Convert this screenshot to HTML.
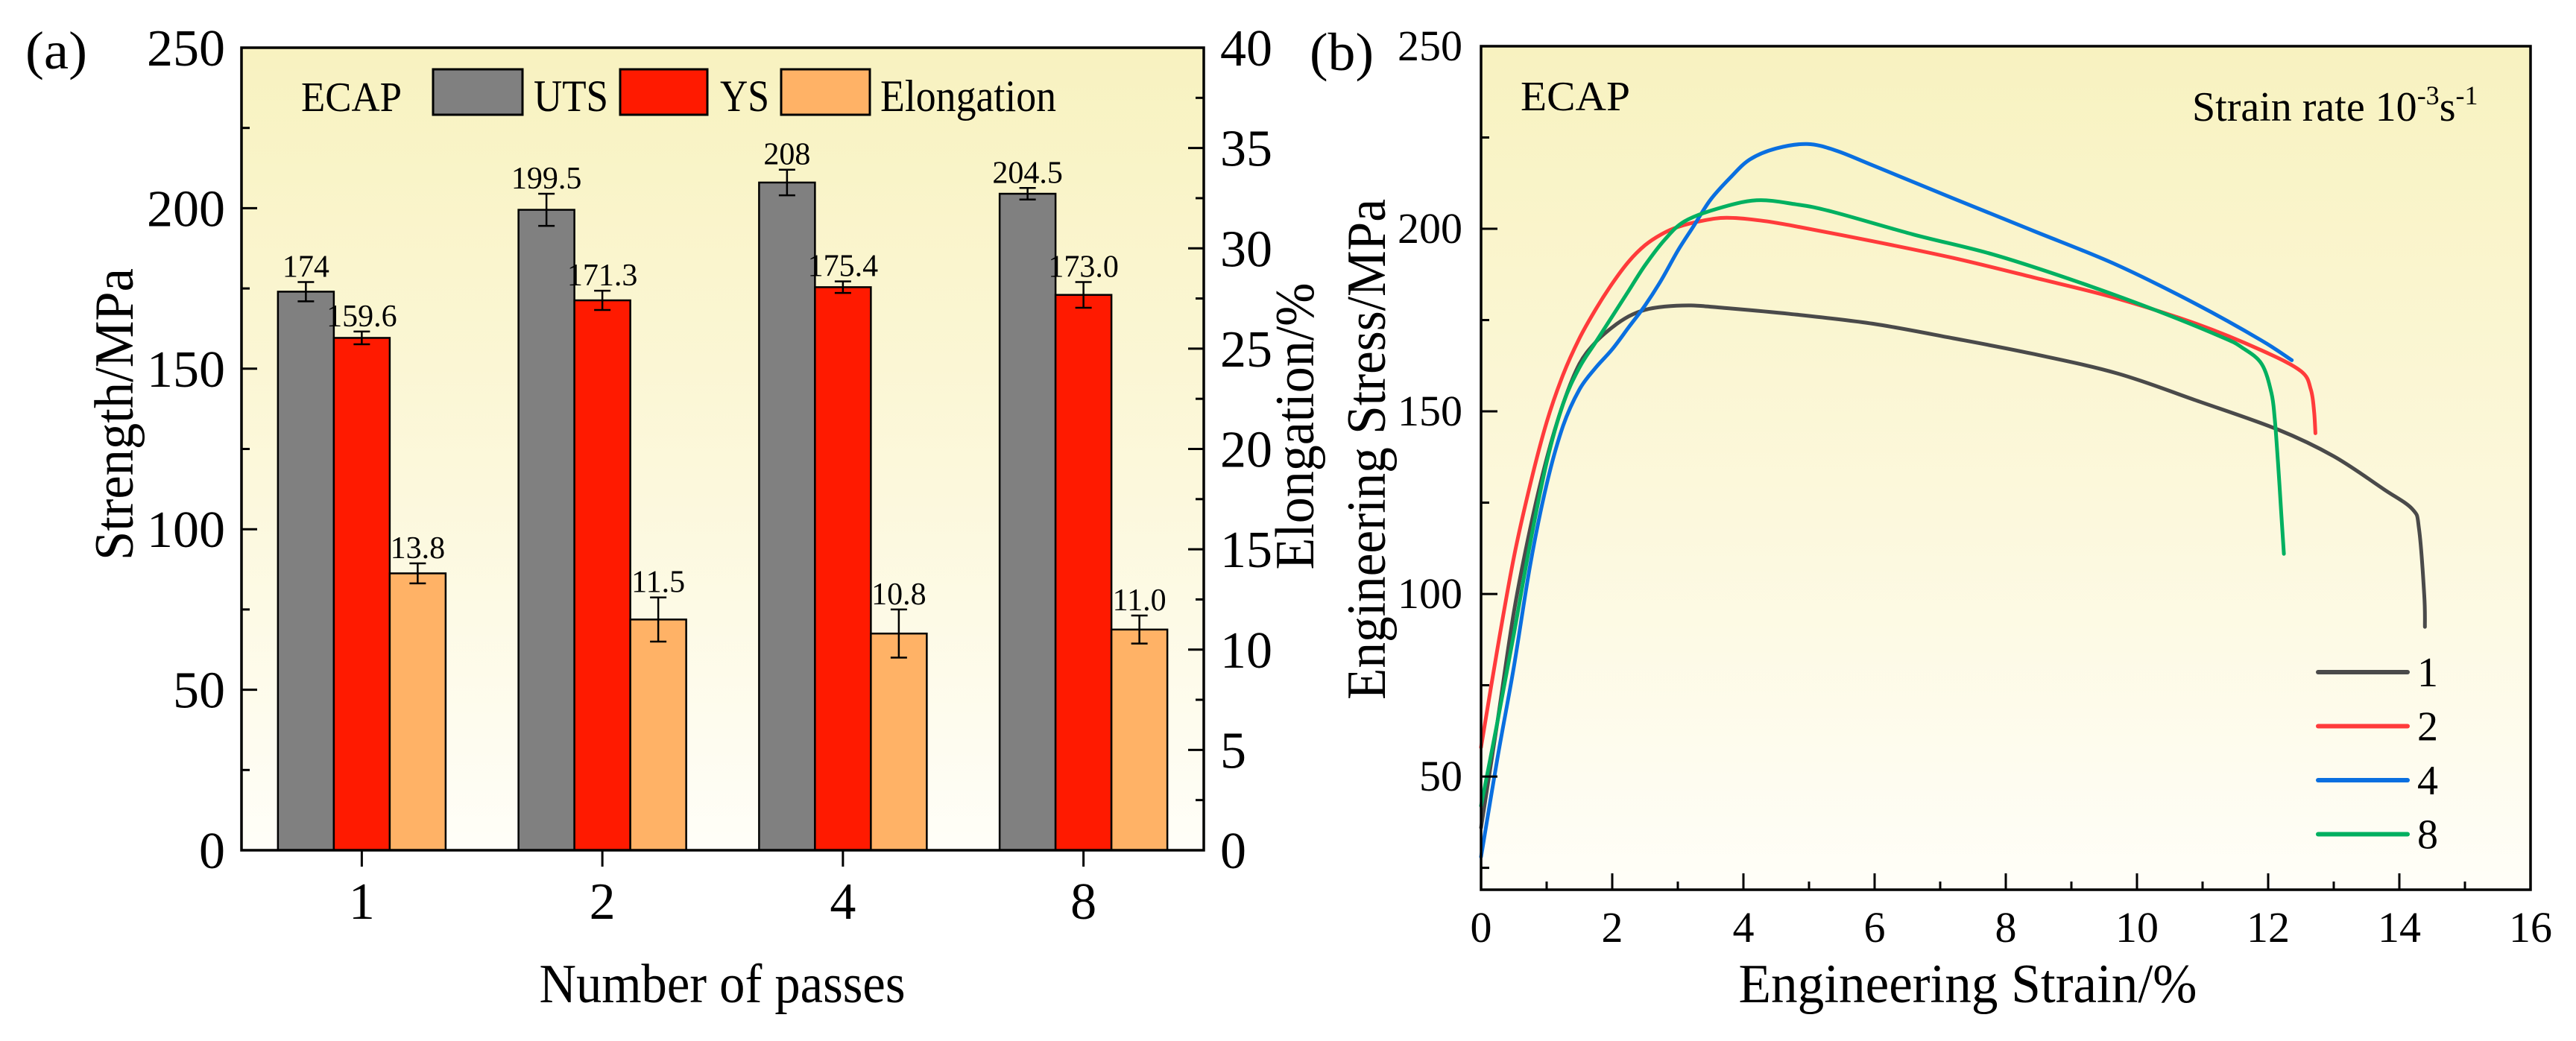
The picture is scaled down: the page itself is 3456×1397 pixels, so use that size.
<!DOCTYPE html>
<html><head><meta charset="utf-8"><style>
html,body{margin:0;padding:0;background:#fff;}
svg{display:block;font-family:"Liberation Serif",serif;}
</style></head><body>
<svg id="fig" width="3456" height="1397" viewBox="0 0 3456 1397" xmlns="http://www.w3.org/2000/svg" font-family="Liberation Serif, serif">
<defs>
<linearGradient id="bg" x1="0" y1="0" x2="0" y2="1">
<stop offset="0" stop-color="#f8f2c0"/><stop offset="0.55" stop-color="#fcf8dc"/><stop offset="1" stop-color="#fffef8"/>
</linearGradient>
</defs>
<rect x="324" y="64" width="1291" height="1077" fill="url(#bg)"/>
<rect x="1987" y="62" width="1408" height="1132" fill="url(#bg)"/>
<g id="ga"></g>
<g id="gb"></g>
<text x="34" y="92" font-size="72" textLength="83" lengthAdjust="spacingAndGlyphs">(a)</text>
<text x="1757" y="94" font-size="72" textLength="86" lengthAdjust="spacingAndGlyphs">(b)</text>
<text x="969" y="1345" font-size="74" text-anchor="middle" textLength="491" lengthAdjust="spacingAndGlyphs">Number of passes</text>
<text transform="translate(178,556) rotate(-90)" font-size="74" text-anchor="middle" textLength="392" lengthAdjust="spacingAndGlyphs">Strength/MPa</text>
<text transform="translate(1762,572) rotate(-90)" font-size="74" text-anchor="middle" textLength="385" lengthAdjust="spacingAndGlyphs">Elongation/%</text>
<text x="404" y="149" font-size="56" textLength="135" lengthAdjust="spacingAndGlyphs">ECAP</text>
<rect x="581" y="93" width="120" height="61" fill="#808080" stroke="#000" stroke-width="3"/>
<text x="716" y="149" font-size="60" textLength="100" lengthAdjust="spacingAndGlyphs">UTS</text>
<rect x="832" y="93" width="117" height="61" fill="#ff1a00" stroke="#000" stroke-width="3"/>
<text x="966" y="149" font-size="60" textLength="66" lengthAdjust="spacingAndGlyphs">YS</text>
<rect x="1048" y="93" width="119" height="61" fill="#ffb266" stroke="#000" stroke-width="3"/>
<text x="1181" y="149" font-size="60" textLength="236" lengthAdjust="spacingAndGlyphs">Elongation</text>
<text x="2640" y="1345" font-size="74" text-anchor="middle" textLength="615" lengthAdjust="spacingAndGlyphs">Engineering Strain/%</text>
<text transform="translate(1858,603) rotate(-90)" font-size="74" text-anchor="middle" textLength="672" lengthAdjust="spacingAndGlyphs">Engineering Stress/MPa</text>
<text x="2040" y="148" font-size="56" textLength="147" lengthAdjust="spacingAndGlyphs">ECAP</text>
<text x="2941" y="162" font-size="56">Strain rate 10<tspan font-size="36" dy="-22">-3</tspan><tspan dy="22">s</tspan><tspan font-size="36" dy="-22">-1</tspan></text>
</svg>
<script>
// ---------- Panel (a) data ----------
const passes = ["1","2","4","8"];
const utsValues = [174, 199.5, 208, 204.5];
const utsErrors = [3, 5, 4, 1.8];
const ysValues = [159.6, 171.3, 175.4, 173.0];
const ysErrors = [2, 3, 1.8, 4];
const elongValues = [13.8, 11.5, 10.8, 11.0];
const elongErrors = [0.5, 1.1, 1.2, 0.7];
const utsLabels = ["174","199.5","208","204.5"];
const ysLabels = ["159.6","171.3","175.4","173.0"];
const elongLabels = ["13.8","11.5","10.8","11.0"];
const leftTicks = [0,50,100,150,200,250];
const rightTicks = [0,5,10,15,20,25,30,35,40];

// ---------- Panel (b) data ----------
const curveNames = ["1","2","4","8"];
const strain1 = [0,0.25,0.5,0.75,1.0,1.25,1.5,1.75,2.0,2.25,2.5,2.8,3.2,3.6,4.7,5.97,7.2,8.4,9.7,10.9,12.15,13.0,13.76,14.2,14.3,14.38,14.39];
const stress1 = [36,65,95,118,137,152,163,169,173,176,177.8,178.7,179,178.5,176.7,174,170,165.8,160.4,153,145,137.7,128.7,123.2,117.8,99.7,91];
const strain2 = [0,0.25,0.5,0.75,1.0,1.25,1.5,1.75,2.0,2.25,2.5,2.75,3.0,3.4,3.74,4.2,4.7,5.97,7.2,8.44,9.68,10.9,11.9,12.5,12.65,12.7,12.72];
const stress2 = [58,85,110,130,147,160,170,178,185,191,195.5,198.5,200.5,202.3,203,202.4,201,196.6,192,186.6,181,174,166.7,161,156,150,144];
const strain4 = [0,0.25,0.5,0.75,1.0,1.25,1.5,1.75,2.0,2.25,2.5,2.75,3.0,3.25,3.5,3.8,4.1,4.5,4.97,5.4,5.97,7.2,8.44,9.68,10.9,11.9,12.36];
const stress4 = [28,55,80,108,130,146,156,162,167,173,179,186,194,201,208,214,219,222,223.2,221.5,217.4,208.3,199.3,190.2,179.4,169.4,164];
const strain8 = [0,0.25,0.5,0.75,1.0,1.25,1.5,1.75,2.0,2.25,2.5,2.8,3.1,3.6,4.2,4.8,5.35,6.6,7.8,9.06,10.3,11.3,11.6,11.9,12.05,12.1,12.15,12.2,12.24];
const stress8 = [42,65,89,114,136,152,162,169,176,183,190,197,202,205.5,207.8,206.7,204.7,198.4,193,185.7,177.6,170.3,167.5,163,155,148,136,122,111];
const xTicksB = [0,2,4,6,8,10,12,14,16];
const yTicksB = [50,100,150,200,250];

const NS = "http://www.w3.org/2000/svg";
function mk(parent, tag, attrs, txt){
  const e = document.createElementNS(NS, tag);
  for (const k in attrs) e.setAttribute(k, attrs[k]);
  if (txt !== undefined) e.textContent = txt;
  parent.appendChild(e); return e;
}

(function(){
  const g = document.getElementById('ga');
  const L=324, R=1615, T=64, B=1141;
  const yS = v => B - (v/250)*(B-T);
  const yE = v => B - (v/40)*(B-T);
  const band = (R-L)/passes.length;
  const cx = i => L + band*(i+0.5);
  const bw = 75;
  const series = [
    {vals:utsValues, errs:utsErrors, labs:utsLabels, fill:"#808080", off:-1, sc:yS, name:"uts"},
    {vals:ysValues, errs:ysErrors, labs:ysLabels, fill:"#ff1a00", off:0, sc:yS, name:"ys"},
    {vals:elongValues, errs:elongErrors, labs:elongLabels, fill:"#ffb266", off:1, sc:yE, name:"elongation"}
  ];
  series.forEach(s=>{
    s.vals.forEach((v,i)=>{
      const x = cx(i) + s.off*bw - bw/2;
      const y = s.sc(v);
      const r = mk(g,'rect',{x:x,y:y,width:bw,height:B-y,fill:s.fill,stroke:"#000","stroke-width":2.5});
      
      
      const xm = x + bw/2;
      const yt = s.sc(v+s.errs[i]), yb = s.sc(v-s.errs[i]);
      const eb = mk(g,'path',{d:`M${xm},${yt}V${yb}M${xm-11},${yt}H${xm+11}M${xm-11},${yb}H${xm+11}`,stroke:"#000","stroke-width":2.5,fill:"none"});
      
      
      const t = mk(g,'text',{x:xm,y:yt-7,"font-size":42,"text-anchor":"middle"}, s.labs[i]);
      
      
    });
  });
  const f = mk(g,'rect',{x:L,y:T,width:R-L,height:B-T,fill:"none",stroke:"#000","stroke-width":3.5});
  
  
  for (let v=0; v<=250; v+=25){
    const major = v%50===0;
    mk(g,'line',{x1:L,x2:L+(major?21:11),y1:yS(v),y2:yS(v),stroke:"#000","stroke-width":3});
  }
  leftTicks.forEach(v=>{
    const t = mk(g,'text',{x:302,y:yS(v)+24,"font-size":70,"text-anchor":"end"}, String(v));
    
    
  });
  for (let v=0; v<=40; v+=2.5){
    const major = v%5===0;
    mk(g,'line',{x1:R,x2:R-(major?21:11),y1:yE(v),y2:yE(v),stroke:"#000","stroke-width":3});
  }
  rightTicks.forEach(v=>{
    const t = mk(g,'text',{x:1637,y:yE(v)+24,"font-size":70}, String(v));
    
    
  });
  passes.forEach((p,i)=>{
    mk(g,'line',{x1:cx(i),x2:cx(i),y1:B,y2:B+22,stroke:"#000","stroke-width":3});
    const t = mk(g,'text',{x:cx(i),y:1233,"font-size":70,"text-anchor":"middle"}, p);
    
    
  });
})();

(function(){
  const g = document.getElementById('gb');
  const L=1987, R=3395, T=62, B=1194;
  const xS = v => L + v/16*(R-L);
  const yS = v => B - (v-19)/(250-19)*(B-T);
  const data = [[strain1,stress1,"#4a4a4a"],[strain2,stress2,"#ff3b3b"],[strain4,stress4,"#0a6fe0"],[strain8,stress8,"#00b060"]];
  const gc = mk(g,'g',{});
  data.forEach((d,k)=>{
    const P = d[0].map((x,i)=>[xS(x), yS(d[1][i])]);
    // smooth Catmull-Rom path through data points
    let path = `M${P[0][0].toFixed(1)},${P[0][1].toFixed(1)}`;
    for (let i=0;i<P.length-1;i++){
      const p0=P[Math.max(0,i-1)], p1=P[i], p2=P[i+1], p3=P[Math.min(P.length-1,i+2)];
      const c1=[p1[0]+(p2[0]-p0[0])/6, p1[1]+(p2[1]-p0[1])/6];
      const c2=[p2[0]-(p3[0]-p1[0])/6, p2[1]-(p3[1]-p1[1])/6];
      path += ` C${c1[0].toFixed(1)},${c1[1].toFixed(1)} ${c2[0].toFixed(1)},${c2[1].toFixed(1)} ${p2[0].toFixed(1)},${p2[1].toFixed(1)}`;
    }
    const pl = mk(gc,'path',{d:path,fill:"none",stroke:d[2],"stroke-width":5,"stroke-linejoin":"round","stroke-linecap":"round"});
    
    
    const ly = 902 + k*72.5;
    const ll = mk(g,'line',{x1:3110,x2:3230,y1:ly,y2:ly,stroke:d[2],"stroke-width":6,"stroke-linecap":"round"});
    
    
    const lt = mk(g,'text',{x:3243,y:ly+19,"font-size":56}, curveNames[k]);
    
    
  });
  const ax = mk(g,'path',{d:`M${L},${T}H${R}V${B}H${L}Z`,fill:"none",stroke:"#000","stroke-width":3.5});
  
  
  for (let v=25; v<=250; v+=25){
    const major = v%50===0;
    mk(g,'line',{x1:L,x2:L+(major?22:11),y1:yS(v),y2:yS(v),stroke:"#000","stroke-width":3});
  }
  yTicksB.forEach(v=>{
    const t = mk(g,'text',{x:1962,y:yS(v)+19,"font-size":58,"text-anchor":"end"}, String(v));
    
    
  });
  for (let v=0; v<=16; v+=1){
    const major = v%2===0;
    mk(g,'line',{x1:xS(v),x2:xS(v),y1:B,y2:B-(major?22:11),stroke:"#000","stroke-width":3});
  }
  xTicksB.forEach(v=>{
    const t = mk(g,'text',{x:xS(v),y:1264,"font-size":58,"text-anchor":"middle"}, String(v));
    
    
  });
})();
</script>
</body></html>
